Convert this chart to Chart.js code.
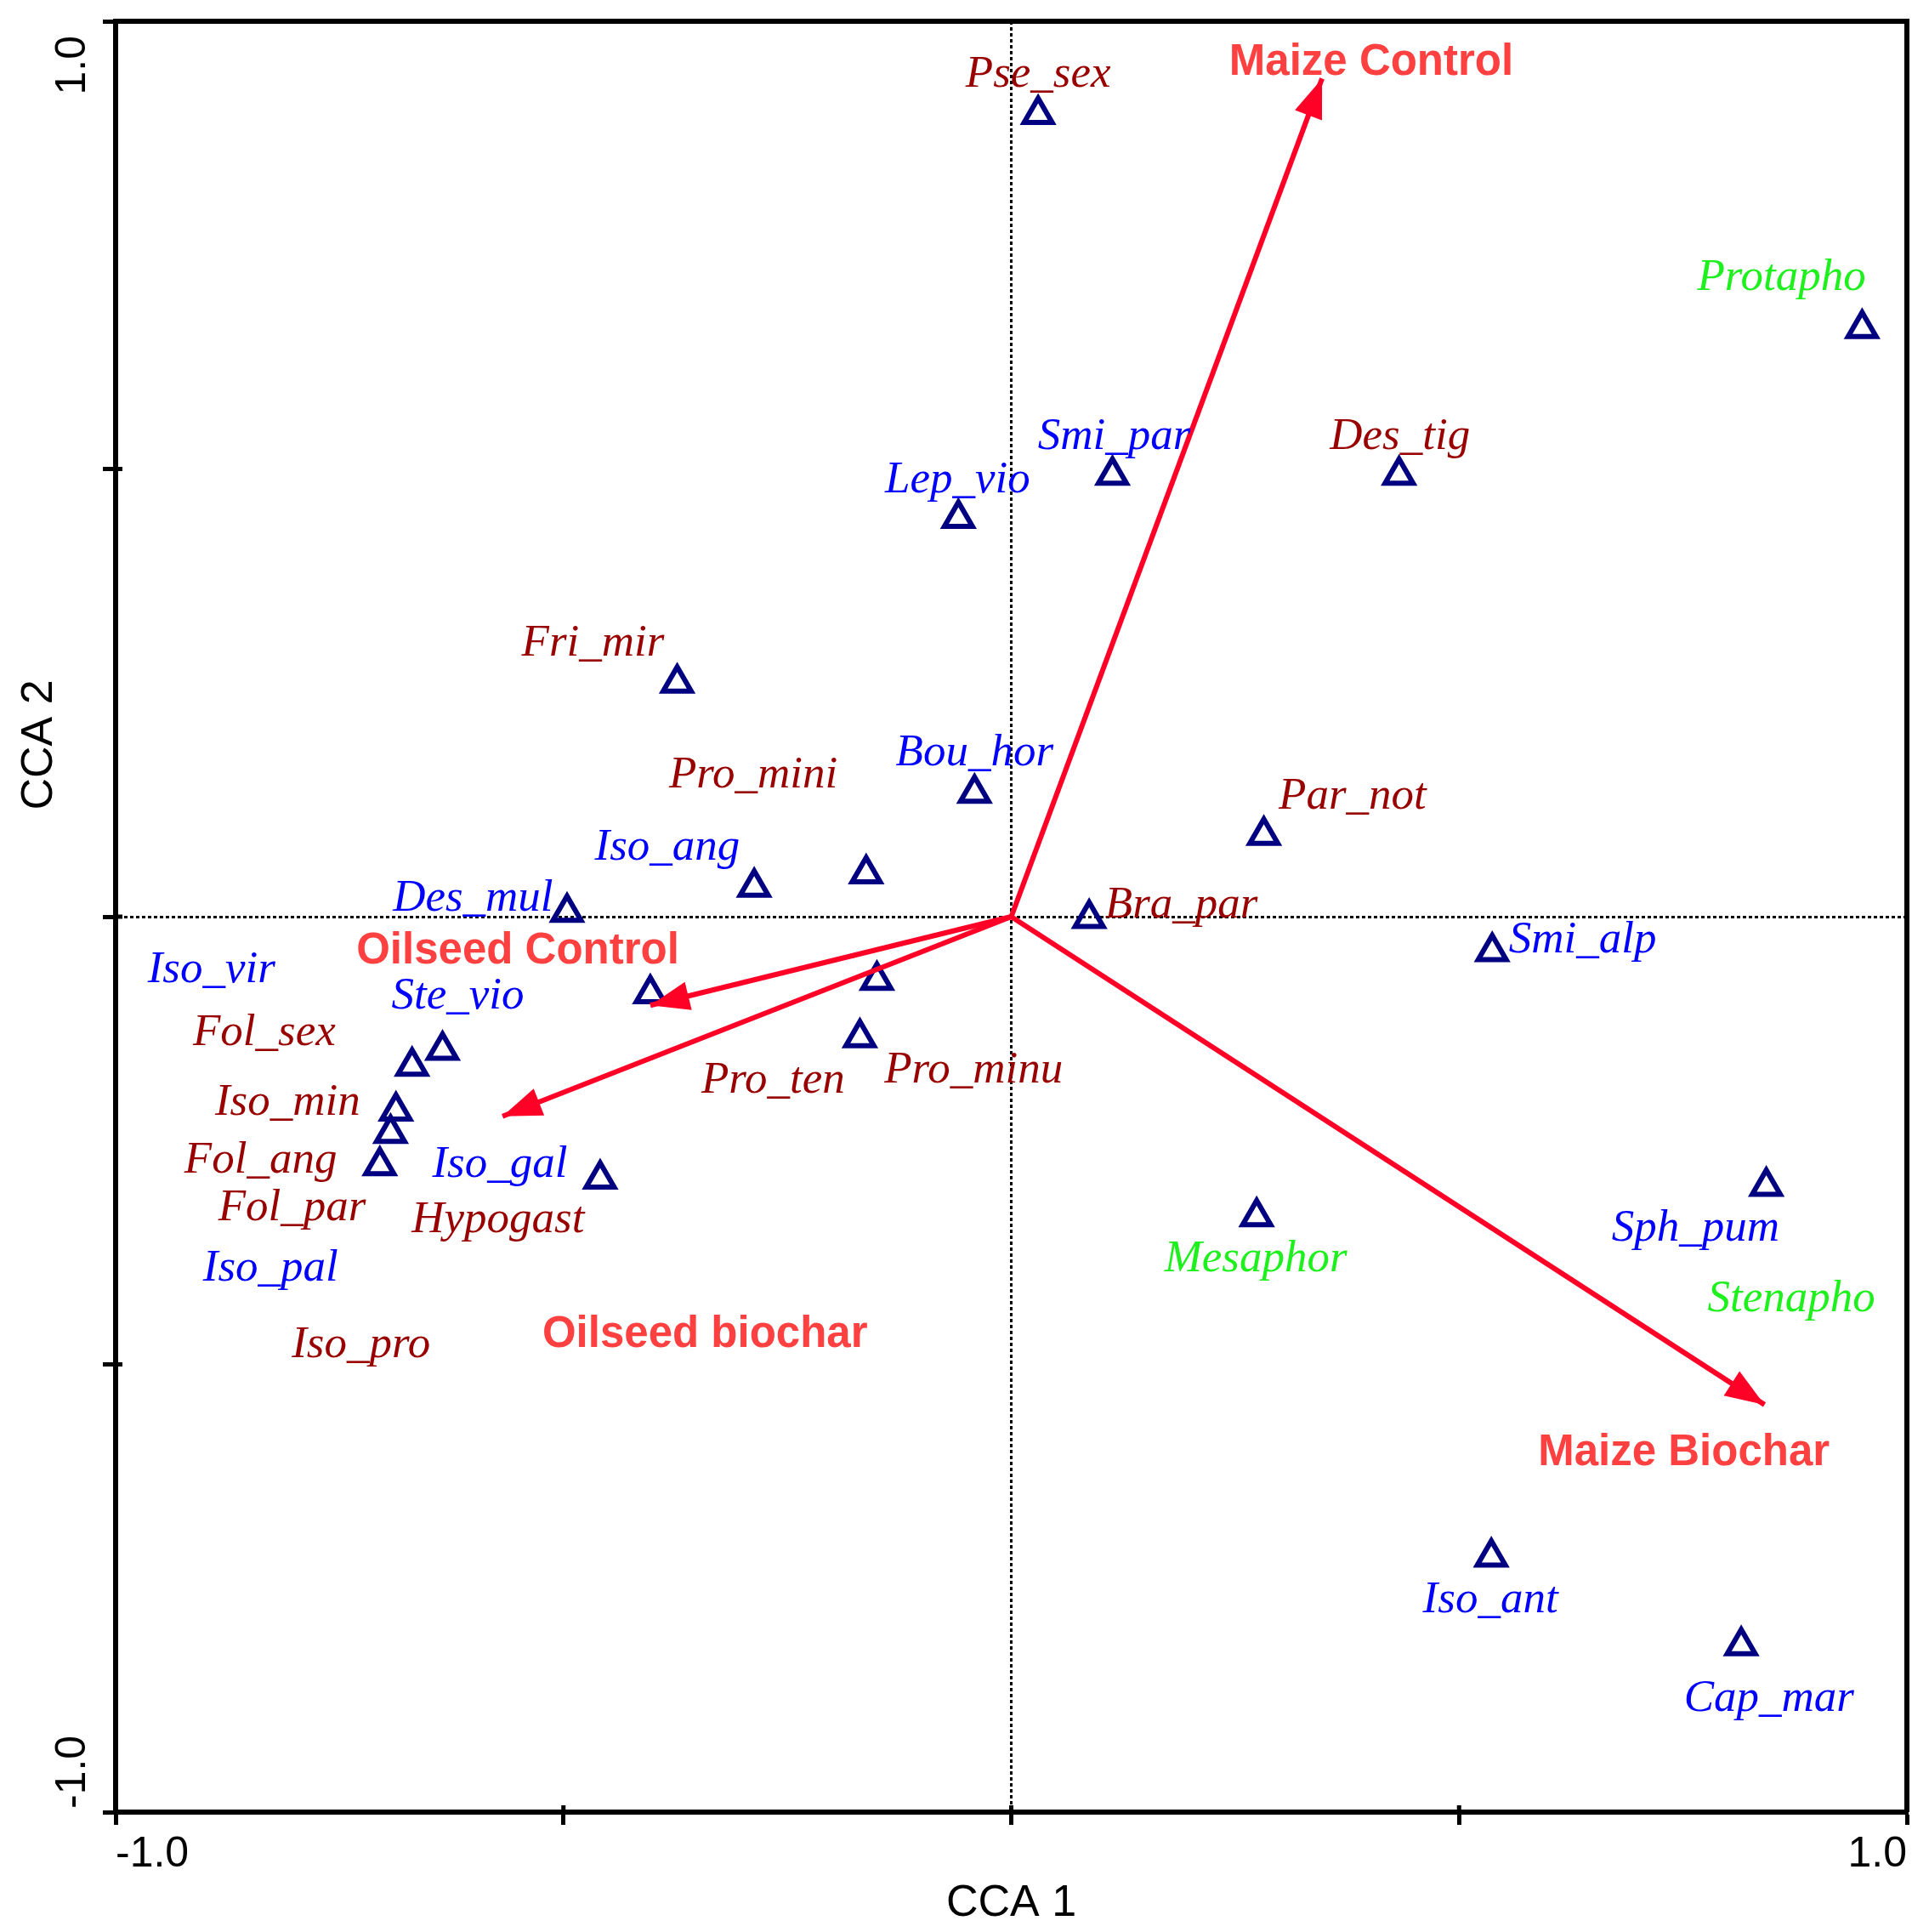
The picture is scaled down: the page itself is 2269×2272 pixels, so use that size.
<!DOCTYPE html>
<html>
<head>
<meta charset="utf-8">
<script src="https://cdn.jsdelivr.net/npm/chart.js@4.4.1/dist/chart.umd.min.js"></script>
<style>
  html, body { margin: 0; padding: 0; background: #fff; }
  #wrap { width: 2269px; height: 2272px; }
</style>
</head>
<body>
<div id="wrap"><canvas id="cca" width="2269" height="2272"></canvas></div>
<script>
// species scores (triangles)
const ptX = [0.030, 0.950, 0.113, 0.433, -0.059, -0.373, -0.041, 0.282, -0.287, -0.162, -0.496, 0.087, 0.537,
             -0.403, -0.150, -0.169, -0.635, -0.669, -0.687, -0.693, -0.705, -0.459, 0.274, 0.843, 0.536, 0.815];
const ptY = [0.896, 0.657, 0.493, 0.493, 0.445, 0.261, 0.138, 0.091, 0.033, 0.048, 0.005, -0.002, -0.039,
             -0.086, -0.071, -0.135, -0.149, -0.167, -0.217, -0.242, -0.278, -0.293, -0.335, -0.301, -0.715, -0.814];

// species labels (centre x, baseline y in CCA units) and colour group
const labNames = ['Pse_sex', 'Protapho', 'Smi_par', 'Des_tig', 'Lep_vio', 'Fri_mir', 'Pro_mini', 'Bou_hor',
                  'Par_not', 'Iso_ang', 'Des_mul', 'Bra_par', 'Smi_alp', 'Iso_vir', 'Ste_vio', 'Fol_sex',
                  'Pro_ten', 'Pro_minu', 'Iso_min', 'Fol_ang', 'Iso_gal', 'Fol_par', 'Hypogast', 'Mesaphor',
                  'Sph_pum', 'Iso_pal', 'Stenapho', 'Iso_pro', 'Iso_ant', 'Cap_mar'];
const labX = [0.030, 0.860, 0.115, 0.434, -0.060, -0.467, -0.288, -0.041, 0.381, -0.384, -0.601, 0.190, 0.638,
              -0.893, -0.618, -0.834, -0.266, -0.042, -0.808, -0.838, -0.571, -0.803, -0.573, 0.273,
              0.764, -0.827, 0.871, -0.726, 0.535, 0.846];
const labY = [0.927, 0.700, 0.522, 0.522, 0.474, 0.292, 0.144, 0.169, 0.121, 0.064, 0.007, -0.001, -0.040,
              -0.073, -0.103, -0.143, -0.197, -0.185, -0.221, -0.286, -0.291, -0.339, -0.352, -0.396,
              -0.362, -0.406, -0.441, -0.492, -0.777, -0.887];
const labGroup = ['r', 'g', 'b', 'r', 'b', 'r', 'r', 'b', 'r', 'b', 'b', 'r', 'b', 'b', 'b', 'r',
                  'r', 'r', 'r', 'r', 'b', 'r', 'r', 'g', 'b', 'b', 'g', 'r', 'b', 'b'];

// treatment biplot arrows
const trtNames = ['Maize Control', 'Oilseed Control', 'Oilseed biochar', 'Maize Biochar'];
const trtX = [0.347, -0.403, -0.568, 0.841];
const trtY = [0.936, -0.099, -0.223, -0.545];
const trtLabX = [0.402, -0.551, -0.342, 0.751];
const trtLabY = [0.940, -0.052, -0.481, -0.613];

const groupColor = { r: '#990000', b: '#0000ff', g: '#1ef01e' };
const arrowRed = '#ff0027';

// wanted plot frame in canvas pixels
const frame = { left: 136, top: 16, right: 2243, bottom: 2131 };

Chart.defaults.font.family = "'Liberation Sans', Arial, sans-serif";
Chart.defaults.color = '#000';

const datasets = trtNames.map((n, i) => ({
  type: 'line',
  label: n,
  data: [{ x: 0, y: 0 }, { x: trtX[i], y: trtY[i] }],
  borderColor: arrowRed,
  borderWidth: 6,
  pointRadius: 0,
  fill: false
}));
datasets.push({
  type: 'scatter',
  label: 'species',
  data: ptX.map((v, i) => ({ x: v, y: ptY[i] })),
  pointStyle: 'triangle',
  pointRadius: 19,
  borderWidth: 6,
  borderColor: '#000080',
  backgroundColor: 'rgba(0,0,0,0)'
});

const zeroGrid = {
  color: c => (c.tick && c.tick.value === 0) ? '#000' : 'rgba(0,0,0,0)',
  lineWidth: 3,
  drawOnChartArea: true,
  drawTicks: true,
  tickLength: 15,
  tickWidth: 5,
  tickColor: '#000',
  tickBorderDash: []
};

const overlay = {
  id: 'overlay',
  afterDatasetsDraw(chart) {
    const { ctx, scales: { x, y } } = chart;
    const ox = x.getPixelForValue(0), oy = y.getPixelForValue(0);
    // arrow heads
    ctx.save();
    ctx.fillStyle = arrowRed;
    trtX.forEach((tx, i) => {
      const px = x.getPixelForValue(tx), py = y.getPixelForValue(trtY[i]);
      const a = Math.atan2(py - oy, px - ox);
      const len = 46, hw = 17;
      ctx.beginPath();
      ctx.moveTo(px, py);
      ctx.lineTo(px - len * Math.cos(a) + hw * Math.sin(a), py - len * Math.sin(a) - hw * Math.cos(a));
      ctx.lineTo(px - len * Math.cos(a) - hw * Math.sin(a), py - len * Math.sin(a) + hw * Math.cos(a));
      ctx.closePath();
      ctx.fill();
    });
    ctx.restore();

    // species names
    ctx.save();
    ctx.textAlign = 'center';
    ctx.textBaseline = 'alphabetic';
    ctx.font = "italic 53px 'Liberation Serif', 'Times New Roman', serif";
    labNames.forEach((n, i) => {
      ctx.fillStyle = groupColor[labGroup[i]];
      ctx.fillText(n, x.getPixelForValue(labX[i]), y.getPixelForValue(labY[i]));
    });
    // treatment names
    ctx.font = "bold 51px 'Liberation Sans', Arial, sans-serif";
    ctx.fillStyle = '#ff4040';
    trtNames.forEach((n, i) => {
      ctx.fillText(n, x.getPixelForValue(trtLabX[i]), y.getPixelForValue(trtLabY[i]));
    });
    ctx.restore();
  },
  afterDraw(chart) {
    const { ctx, chartArea: a, scales: { x, y } } = chart;
    ctx.save();
    ctx.strokeStyle = '#000';
    // top and right frame
    ctx.lineWidth = 6;
    ctx.beginPath();
    ctx.moveTo(a.left, a.top);
    ctx.lineTo(a.right + 3, a.top);
    ctx.moveTo(a.right, a.top);
    ctx.lineTo(a.right, a.bottom);
    ctx.stroke();
    // inner part of ticks
    ctx.lineWidth = 5;
    ctx.beginPath();
    [-0.5, 0, 0.5].forEach(v => {
      const px = x.getPixelForValue(v), py = y.getPixelForValue(v);
      ctx.moveTo(px, a.bottom);
      ctx.lineTo(px, a.bottom - 8);
      ctx.moveTo(a.left, py);
      ctx.lineTo(a.left + 8, py);
    });
    ctx.stroke();
    // rotated y tick labels
    ctx.fillStyle = '#000';
    ctx.font = "50px 'Liberation Sans', Arial, sans-serif";
    ctx.textBaseline = 'alphabetic';
    ctx.save();
    ctx.translate(100, y.getPixelForValue(1) + 17);
    ctx.rotate(-Math.PI / 2);
    ctx.textAlign = 'right';
    ctx.fillText('1.0', 0, 0);
    ctx.restore();
    ctx.save();
    ctx.translate(100, y.getPixelForValue(-1) - 4);
    ctx.rotate(-Math.PI / 2);
    ctx.textAlign = 'left';
    ctx.fillText('-1.0', 0, 0);
    ctx.restore();
    // y axis title
    ctx.save();
    ctx.font = "52px 'Liberation Sans', Arial, sans-serif";
    ctx.translate(61, 876);
    ctx.rotate(-Math.PI / 2);
    ctx.textAlign = 'center';
    ctx.fillText('CCA 2', 0, 0);
    ctx.restore();
    ctx.restore();
  }
};

const chart = new Chart(document.getElementById('cca'), {
  type: 'scatter',
  data: { datasets },
  options: {
    responsive: false,
    devicePixelRatio: 1,
    animation: false,
    layout: { padding: { left: 0, top: 16, right: 26, bottom: 0 } },
    plugins: { legend: { display: false }, tooltip: { enabled: false } },
    scales: {
      x: {
        type: 'linear',
        min: -1, max: 1,
        ticks: {
          stepSize: 0.5,
          align: 'inner',
          padding: 5,
          font: { size: 50 },
          color: '#000',
          maxRotation: 0,
          autoSkip: false,
          callback: v => v === -1 ? '-1.0' : (v === 1 ? '1.0' : '')
        },
        grid: zeroGrid,
        border: { display: true, width: 6, color: '#000', dash: [4, 3] },
        title: { display: true, text: 'CCA 1', font: { size: 52 }, color: '#000', padding: { top: 0, bottom: 2 } },
        afterFit: s => { s.height = 141; }
      },
      y: {
        type: 'linear',
        min: -1, max: 1,
        ticks: { stepSize: 0.5, display: false },
        grid: zeroGrid,
        border: { display: true, width: 6, color: '#000', dash: [4, 3] },
        title: { display: false },
        afterFit: s => { s.width = 136; }
      }
    }
  },
  plugins: [overlay]
});

// nudge the layout padding so the plot frame lands where the original has it
const pad = chart.options.layout.padding;
const ca = chart.chartArea;
pad.top += frame.top - ca.top;
pad.left += frame.left - ca.left;
pad.right += ca.right - frame.right;
chart.update();
</script>
</body>
</html>
